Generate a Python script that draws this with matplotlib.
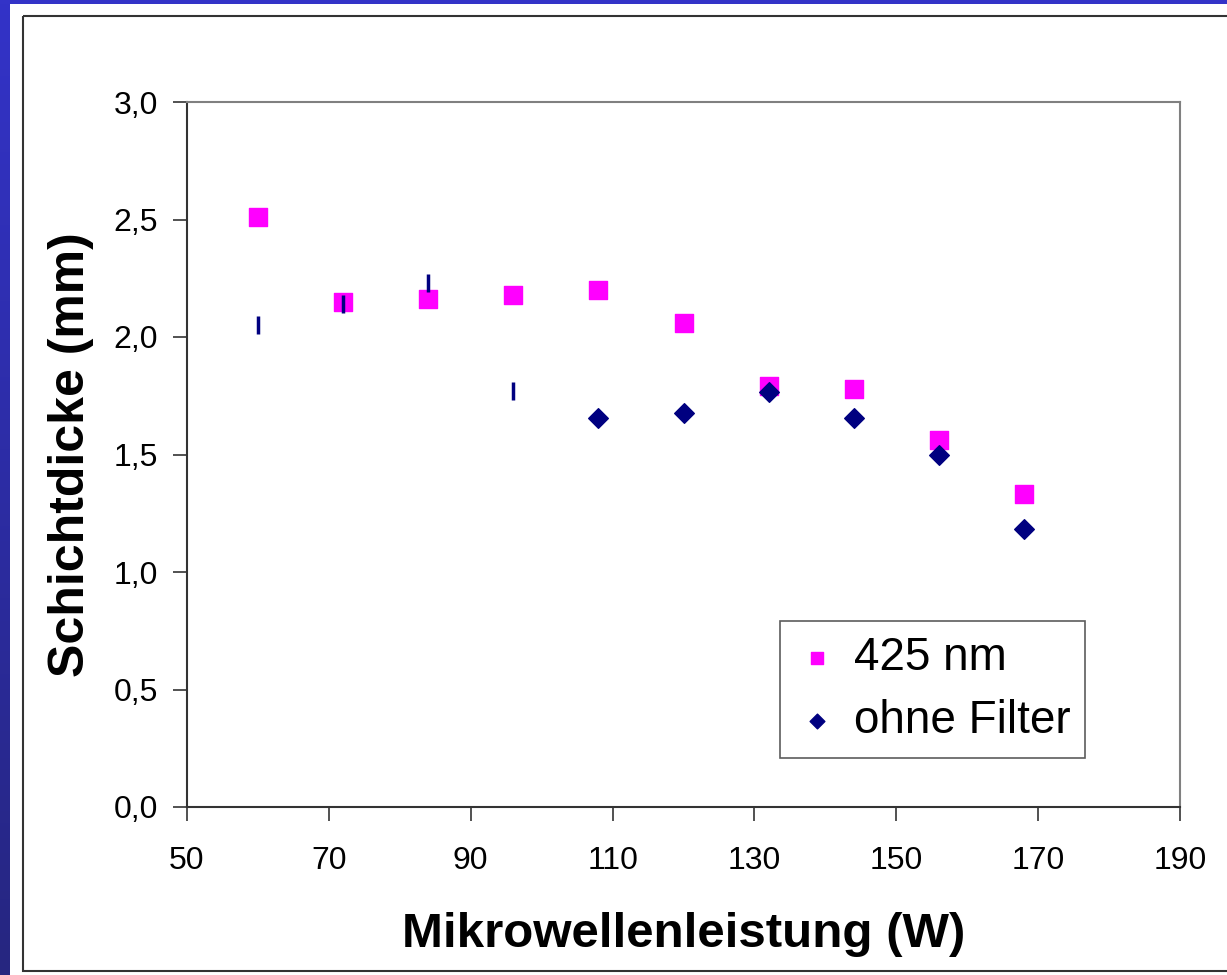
import numpy as np
import matplotlib.pyplot as plt
from matplotlib.patches import Rectangle
from matplotlib.ticker import FuncFormatter

plt.rcParams['font.family'] = ['Liberation Sans', 'DejaVu Sans']

# ── Daten ─────────────────────────────────────────────────────────────────────
leistung = [60, 72, 84, 96, 108, 120, 132, 144, 156, 168]
dicke_425 = [2.51, 2.15, 2.16, 2.18, 2.20, 2.06, 1.79, 1.78, 1.56, 1.33]
dicke_ohne = [2.05, 2.14, 2.23, 1.77, 1.655, 1.675, 1.765, 1.655, 1.50, 1.185]
n_strich = 4   # die ersten Punkte erscheinen im Original als senkrechte Striche

W, H = 1227, 975
fig = plt.figure(figsize=(W / 100, H / 100), dpi=100)

# ── Rahmen (blauer Rand links / oben) ────────────────────────────────────────
bg = fig.add_axes([0, 0, 1, 1], zorder=-10)
bg.set_xlim(0, W)
bg.set_ylim(H, 0)
bg.axis('off')
grad = np.linspace(0, 1, 256).reshape(-1, 1)
top_c = np.array([0x33, 0x33, 0xc8]) / 255
bot_c = np.array([0x26, 0x26, 0x80]) / 255
img = top_c + grad[..., None] * (bot_c - top_c)
bg.imshow(img, extent=[0, 10, H, 0], aspect='auto')
bg.add_patch(Rectangle((0, 0), W, 4, color=top_c, lw=0))
bg.add_patch(Rectangle((23, 16), W, 955, fill=False, ec='#333333', lw=1.5))

# ── Diagramm ──────────────────────────────────────────────────────────────────
ax = fig.add_axes([187 / W, 1 - 807 / H, (1180 - 187) / W, (807 - 102) / H])
ax.scatter(leistung, dicke_425, marker='s', s=150, color='#ff00ff',
           label='425 nm', zorder=3)
ax.plot(leistung[:n_strich], dicke_ohne[:n_strich], ls='none', marker='|',
        ms=13, mew=2.5, color='#000080', zorder=4)
ax.scatter(leistung[n_strich:], dicke_ohne[n_strich:], marker='D', s=100,
           color='#000080', label='ohne Filter', zorder=4)

ax.set_xlim(50, 190)
ax.set_ylim(0, 3.0)
ax.set_xticks(np.arange(50, 191, 20))
ax.set_yticks(np.arange(0, 3.01, 0.5))
ax.yaxis.set_major_formatter(FuncFormatter(lambda v, p: f'{v:.1f}'.replace('.', ',')))
ax.tick_params(labelsize=23, length=10, width=1.2, color='#333333')
ax.tick_params(axis='x', pad=18)
ax.tick_params(axis='y', pad=11)

for s in ['left', 'bottom']:
    ax.spines[s].set_color('#333333')
    ax.spines[s].set_linewidth(1.5)
for s in ['top', 'right']:
    ax.spines[s].set_color('#808080')
    ax.spines[s].set_linewidth(1.5)

ax.set_xlabel('Mikrowellenleistung (W)', fontsize=35.5, fontweight='bold', labelpad=26)
ax.set_ylabel('Schichtdicke (mm)', fontsize=36, fontweight='bold', labelpad=14)

leg = ax.legend(loc='lower right', bbox_to_anchor=(0.9045, 0.07), fontsize=33,
                frameon=True, fancybox=False, edgecolor='#333333',
                handletextpad=0.3, borderpad=0.32, labelspacing=0.42,
                markerscale=0.75, handlelength=1.0, borderaxespad=0)
leg.get_frame().set_linewidth(1.2)

fig.savefig('out.png', dpi=100)
